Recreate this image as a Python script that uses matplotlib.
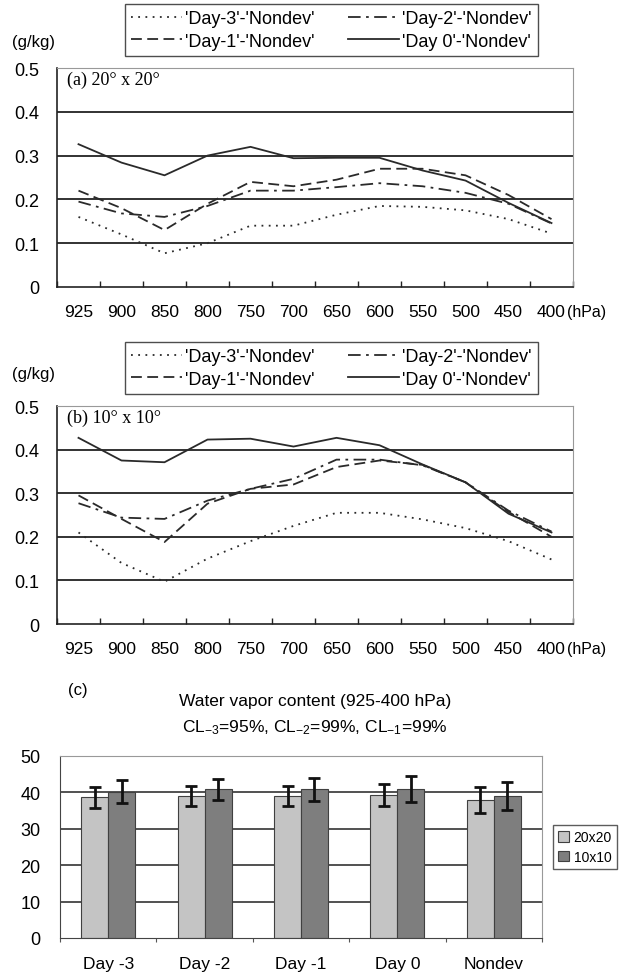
import matplotlib
matplotlib.use("Agg")
import matplotlib.pyplot as plt
import numpy as np
from matplotlib.transforms import blended_transform_factory

plt.rcParams['font.family'] = ['Liberation Sans', 'DejaVu Sans']
plt.rcParams['mathtext.fontset'] = 'custom'
plt.rcParams['mathtext.rm'] = 'Liberation Sans'
plt.rcParams['mathtext.it'] = 'Liberation Sans:italic'
plt.rcParams['mathtext.bf'] = 'Liberation Sans:bold'

# ---------------- data ----------------
levels = ['925', '900', '850', '800', '750', '700', '650', '600', '550', '500', '450', '400']
series_labels = ["'Day-3'-'Nondev'", "'Day-2'-'Nondev'", "'Day-1'-'Nondev'", "'Day 0'-'Nondev'"]

a_day3 = [0.160, 0.120, 0.077, 0.100, 0.140, 0.140, 0.165, 0.185, 0.183, 0.175, 0.155, 0.122]
a_day2 = [0.195, 0.168, 0.160, 0.185, 0.220, 0.220, 0.228, 0.237, 0.230, 0.215, 0.190, 0.145]
a_day1 = [0.220, 0.180, 0.130, 0.190, 0.240, 0.230, 0.245, 0.270, 0.270, 0.255, 0.210, 0.155]
a_day0 = [0.326, 0.284, 0.255, 0.300, 0.320, 0.294, 0.295, 0.295, 0.266, 0.243, 0.192, 0.146]

b_day3 = [0.210, 0.140, 0.097, 0.150, 0.190, 0.225, 0.255, 0.255, 0.240, 0.220, 0.190, 0.148]
b_day2 = [0.277, 0.244, 0.241, 0.283, 0.310, 0.333, 0.377, 0.377, 0.364, 0.325, 0.260, 0.212]
b_day1 = [0.295, 0.241, 0.188, 0.276, 0.310, 0.320, 0.360, 0.375, 0.365, 0.325, 0.257, 0.200]
b_day0 = [0.427, 0.375, 0.371, 0.423, 0.425, 0.407, 0.427, 0.410, 0.366, 0.325, 0.253, 0.210]

bar_cats = ['Day -3', 'Day -2', 'Day -1', 'Day 0', 'Nondev']
bar_labels = ['20x20', '10x10']
wv_20 = [38.7, 39.0, 39.0, 39.3, 37.9]
wv_10 = [40.2, 40.8, 40.8, 41.0, 39.0]
err_20 = [2.9, 2.7, 2.7, 2.9, 3.5]
err_10 = [3.2, 2.9, 3.2, 3.6, 3.8]

# ---------------- figure ----------------
W, H = 628, 978
fig = plt.figure(figsize=(W / 100, H / 100), dpi=100)

def px_axes(l, t, r, b):
    return fig.add_axes([l / W, 1 - b / H, (r - l) / W, (b - t) / H])

line_color = '#2a2a2a'
styles = [(0, (1, 3)), (0, (7, 3, 1.5, 3)), (0, (6, 3)), '-']

def line_panel(ax, series, tag, yl_y, leg_box):
    x = np.arange(len(levels))
    handles = []
    for s, ls in zip(series, styles):
        h, = ax.plot(x, s, color=line_color, lw=1.3, ls=ls)
        handles.append(h)
    ax.set_xlim(-0.5, len(levels) - 0.5)
    ax.set_ylim(0, 0.5)
    ax.set_yticks([0, 0.1, 0.2, 0.3, 0.4, 0.5])
    ax.set_yticklabels(['0', '0.1', '0.2', '0.3', '0.4', '0.5'])
    ax.tick_params(axis='y', length=0, pad=13, labelsize=13)
    for yv in [0.1, 0.2, 0.3, 0.4]:
        ax.axhline(yv, color='#222222', lw=1.3, zorder=0)
    ax.set_xticks(np.arange(-0.5, len(levels) + 0.5, 1.0))
    ax.set_xticklabels([])
    ax.set_xticks(x, minor=True)
    ax.set_xticklabels(levels, minor=True)
    ax.tick_params(axis='x', which='major', direction='in', length=4, width=1, color='#222222')
    ax.tick_params(axis='x', which='minor', length=0, pad=12, labelsize=12.5)
    for sp in ['top', 'right']:
        ax.spines[sp].set_color('#999999')
    for sp in ['left', 'bottom']:
        ax.spines[sp].set_color('#222222')
        ax.spines[sp].set_linewidth(1.2)
    tr = blended_transform_factory(ax.transData, ax.transAxes)
    ax.text(11.36, -0.112, '(hPa)', transform=tr, ha='left', va='center', fontsize=11.5)
    ax.text(0.02, 0.95, tag, transform=ax.transAxes, ha='left', va='center',
            family=['Liberation Serif', 'DejaVu Serif'], fontsize=13)
    fig.text(12 / W, 1 - yl_y / H, '(g/kg)', ha='left', va='center', fontsize=12)
    l, t, r, b = leg_box
    order = [0, 2, 1, 3]
    leg = fig.legend([handles[i] for i in order], [series_labels[i] for i in order],
                     ncol=2, loc='center', mode='expand',
                     bbox_to_anchor=(l / W, 1 - b / H, (r - l) / W, (b - t) / H),
                     borderaxespad=0, fontsize=13, handlelength=2.8, handletextpad=0.2,
                     columnspacing=0.8, labelspacing=0.3, borderpad=0.35,
                     frameon=True, fancybox=False, edgecolor='#222222')
    leg.get_frame().set_linewidth(1.0)
    return ax

ax_a = px_axes(57, 69, 573, 288)
line_panel(ax_a, [a_day3, a_day2, a_day1, a_day0], '(a) 20° x 20°', 43, (125, 5, 538, 57))

ax_b = px_axes(57, 407, 573, 625)
line_panel(ax_b, [b_day3, b_day2, b_day1, b_day0], '(b) 10° x 10°', 375, (125, 343, 538, 395))

# ---------------- bar panel ----------------
ax_c = px_axes(60, 757, 542, 939)
xc = np.arange(len(bar_cats))
bw = 0.28
ax_c.bar(xc - bw / 2, wv_20, bw, color='#c4c4c4', edgecolor='#404040', lw=0.8,
         label=bar_labels[0], zorder=2)
ax_c.bar(xc + bw / 2, wv_10, bw, color='#7e7e7e', edgecolor='#404040', lw=0.8,
         label=bar_labels[1], zorder=2)
ax_c.errorbar(xc - bw / 2, wv_20, yerr=err_20, fmt='none', ecolor='#111111',
              elinewidth=2, capsize=4, capthick=2, zorder=3)
ax_c.errorbar(xc + bw / 2, wv_10, yerr=err_10, fmt='none', ecolor='#111111',
              elinewidth=2, capsize=4, capthick=2, zorder=3)
ax_c.set_xlim(-0.5, len(bar_cats) - 0.5)
ax_c.set_ylim(0, 50)
ax_c.set_yticks([0, 10, 20, 30, 40, 50])
ax_c.tick_params(axis='y', length=0, pad=14, labelsize=13)
for yv in [10, 20, 30, 40]:
    ax_c.axhline(yv, color='#333333', lw=1.2, zorder=0)
ax_c.set_xticks(np.arange(-0.5, len(bar_cats) + 0.5, 1.0))
ax_c.set_xticklabels([])
ax_c.set_xticks(xc, minor=True)
ax_c.set_xticklabels(bar_cats, minor=True)
ax_c.tick_params(axis='x', which='major', direction='out', length=3, color='#555555')
ax_c.tick_params(axis='x', which='minor', length=0, pad=13, labelsize=12.5)
for sp in ['top', 'right']:
    ax_c.spines[sp].set_color('#999999')
for sp in ['left', 'bottom']:
    ax_c.spines[sp].set_color('#444444')

fig.text(68 / W, 1 - 691 / H, '(c)', ha='left', va='center', fontsize=12)
fig.text(315 / W, 1 - 702 / H, 'Water vapor content (925-400 hPa)', ha='center', va='center', fontsize=12.5)
fig.text(315 / W, 1 - 728 / H, r'CL$_{-3}$=95%, CL$_{-2}$=99%, CL$_{-1}$=99%', ha='center', va='center', fontsize=12.5)

legc = ax_c.legend(loc='center', bbox_to_anchor=(585 / W, 1 - 848 / H),
                   bbox_transform=fig.transFigure, fontsize=10, handlelength=0.8,
                   handleheight=0.8, handletextpad=0.3, labelspacing=0.4, borderpad=0.35,
                   frameon=True, fancybox=False, edgecolor='#333333')
legc.get_frame().set_linewidth(1.0)

fig.savefig('out.png', dpi=100)
